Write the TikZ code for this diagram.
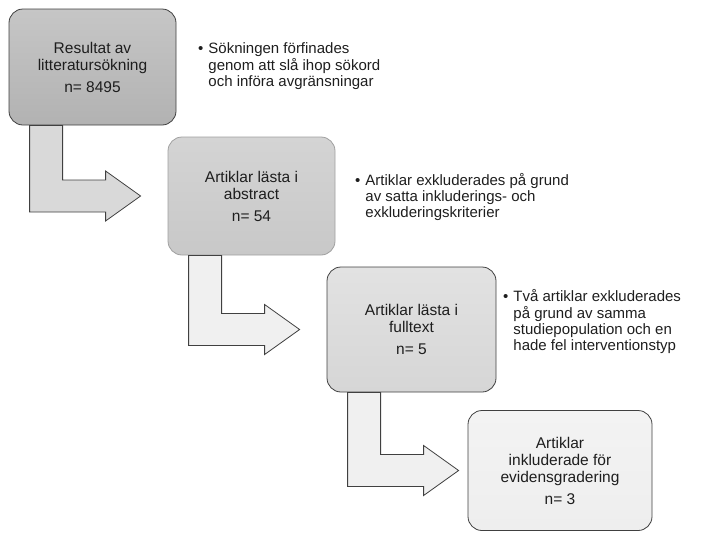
\documentclass[tikz,border=0pt]{standalone}
\usepackage{fontspec}
\setmainfont{Liberation Sans}
\usetikzlibrary{calc}

\definecolor{r64g64b64}{RGB}{64,64,64}%
\definecolor{r160g160b160}{RGB}{160,160,160}%
\definecolor{r30g30b30}{RGB}{30,30,30}%
\definecolor{r217g217b217}{RGB}{217,217,217}%
\definecolor{r240g240b240}{RGB}{240,240,240}%

\tikzset{
  stepbox/.style={draw=r64g64b64, line width=0.8pt, rounded corners=14pt,
    align=center, text=r30g30b30, inner sep=2pt,
    font=\fontsize{15.5}{17}\selectfont},
  note/.style={anchor=north west, inner sep=0pt, text=r30g30b30,
    font=\fontsize{15}{16}\selectfont},
  bent/.style={draw=r64g64b64, line width=0.8pt, line join=miter}
}

% bent arrow from the box #1 down and over to the box #2
\newcommand\bentarrow[3]{%
  \filldraw[bent, fill=#3] let \p1=(#1.south west), \p2=(#2.west) in
    (\x1+21pt,\y1) -- (\x1+21pt,\y2-16pt) -- (\x1+97pt,\y2-16pt) --
    (\x1+97pt,\y2-25pt) -- (\x1+132pt,\y2) -- (\x1+97pt,\y2+25pt) --
    (\x1+97pt,\y2+16pt) -- (\x1+54pt,\y2+16pt) -- (\x1+54pt,\y1) -- cycle;%
}

\begin{document}
\begin{tikzpicture}[x=1pt,y=-1pt]
  \useasboundingbox (0,0) rectangle (708,533);

  % Drawing the boxes
  \node[stepbox, minimum width=167pt, minimum height=116pt,
    top color={rgb,255:red,198;green,198;blue,198},
    bottom color={rgb,255:red,178;green,178;blue,178}]
    (search) at (92.5,67) {Resultat av\\litteratursökning\\[5pt]n= 8495};
  \node[stepbox, draw=r160g160b160, minimum width=167pt, minimum height=118pt,
    top color={rgb,255:red,212;green,212;blue,212},
    bottom color={rgb,255:red,200;green,200;blue,200}]
    (abstract) at (251.5,196) {Artiklar lästa i\\abstract\\[5pt]n= 54};
  \node[stepbox, minimum width=169pt, minimum height=125pt,
    top color={rgb,255:red,226;green,226;blue,226},
    bottom color={rgb,255:red,214;green,214;blue,214}]
    (fulltext) at (411.5,329.5) {Artiklar lästa i\\fulltext\\[5pt]n= 5};
  \node[stepbox, minimum width=184pt, minimum height=120pt,
    top color={rgb,255:red,243;green,243;blue,243},
    bottom color={rgb,255:red,238;green,238;blue,238}]
    (graded) at (560,470.5) {Artiklar\\inkluderade för\\evidensgradering\\[5pt]n= 3};

  % Drawing the bent arrows
  \bentarrow{search}{abstract}{r217g217b217}
  \bentarrow{abstract}{fulltext}{r240g240b240}
  \bentarrow{fulltext}{graded}{r240g240b240}

  % Marking the notes
  \node[note] (why1) at (198,42) {\begin{tabular}{@{}l@{\hspace{5pt}}l@{}}
    •&Sökningen förfinades\\&genom att slå ihop sökord\\&och införa avgränsningar
    \end{tabular}};
  \node[note] (why2) at (355,173) {\begin{tabular}{@{}l@{\hspace{5pt}}l@{}}
    •&Artiklar exkluderades på grund\\&av satta inkluderings- och\\&exkluderingskriterier
    \end{tabular}};
  \node[note] (why3) at (503,289) {\begin{tabular}{@{}l@{\hspace{5pt}}l@{}}
    •&Två artiklar exkluderades\\&på grund av samma\\&studiepopulation och en\\&hade fel interventionstyp
    \end{tabular}};
\end{tikzpicture}
\end{document}
